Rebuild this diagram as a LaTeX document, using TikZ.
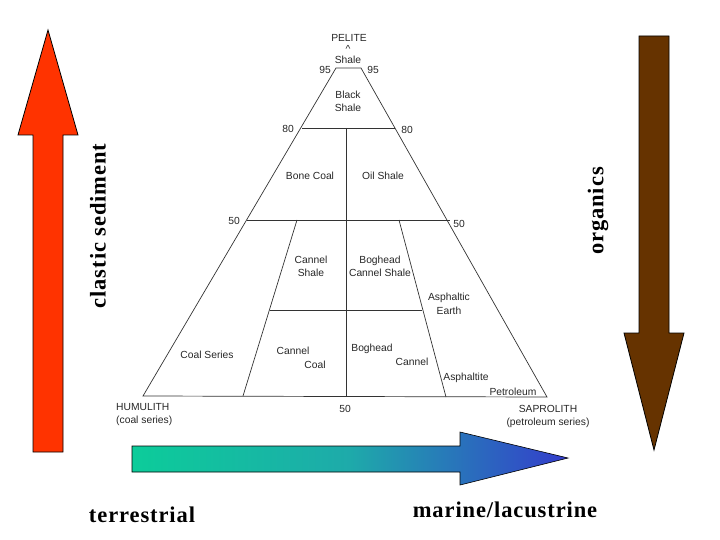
\documentclass[tikz,border=0pt]{standalone}
\usepackage{fontspec}
\setmainfont{Liberation Sans}
\newfontfamily\bigserif[LetterSpace=4]{Liberation Serif}
\begin{document}
\begin{tikzpicture}[x=1pt,y=-1pt,
  lbl/.style={inner sep=0pt, font=\fontsize{10.3}{12}\selectfont, text=black!85},
  big/.style={inner sep=0pt, font=\bigserif\bfseries\fontsize{22.5}{26}\selectfont},
  tri/.style={draw=black!80, line width=0.7pt},
  arr/.style={draw=black, line width=0.8pt, line join=miter}]
\useasboundingbox (0,0) rectangle (720,540);
\definecolor{redarrow}{RGB}{255,51,0}
\definecolor{brownarrow}{RGB}{102,51,0}
\definecolor{gleft}{RGB}{12,204,154}
\definecolor{gmid}{RGB}{30,170,170}
\definecolor{gright}{RGB}{52,60,204}

% coordinates of the diagram
\coordinate (L0) at (143,396);
\coordinate (R0) at (547,397);
\coordinate (T95L) at (336,68);
\coordinate (T95R) at (361,68);
\coordinate (L80) at (302,128);
\coordinate (R80) at (395,128);
\coordinate (L50) at (247,220);
\coordinate (R50) at (450,220);
\coordinate (C80) at (346,128);
\coordinate (C0) at (346,396);
\coordinate (IL50) at (297,220);
\coordinate (IL0) at (243,396);
\coordinate (IR50) at (399,220);
\coordinate (IR0) at (446,397);
\coordinate (ML) at (270,310);
\coordinate (MR) at (422,310);

% triangle
\draw[tri] (L0) -- (T95L) -- (T95R) -- (R0) -- cycle;
\draw[tri] (L80) -- (R80);
\draw[tri] (L50) -- (R50);
\draw[tri] (C80) -- (C0);
\draw[tri] (IL50) -- (IL0);
\draw[tri] (IR50) -- (IR0);
\draw[tri] (ML) -- (MR);

% labels
\node[lbl] (pelite) at (349,38) {PELITE};
\node[lbl] (caret) at (348,49) {\textasciicircum};
\node[lbl] (shale) at (348,60) {Shale};
\node[lbl] (n95l) at (325,70) {95};
\node[lbl] (n95r) at (373,70) {95};
\node[lbl] (black) at (348,95) {Black};
\node[lbl] (bshale) at (348,108) {Shale};
\node[lbl] (n80l) at (288,129) {80};
\node[lbl] (n80r) at (407,130) {80};
\node[lbl] (bone) at (310,176) {Bone Coal};
\node[lbl] (oil) at (383,176) {Oil Shale};
\node[lbl] (n50l) at (234,221) {50};
\node[lbl] (n50r) at (459,224) {50};
\node[lbl] (cs1) at (311,260) {Cannel};
\node[lbl] (cs2) at (311,273) {Shale};
\node[lbl] (bcs1) at (380,261) {Boghead};
\node[lbl] (bcs2) at (380,273) {Cannel Shale};
\node[lbl] (ae1) at (449,298) {Asphaltic};
\node[lbl] (ae2) at (449,311) {Earth};
\node[lbl] (coalser) at (207,355) {Coal Series};
\node[lbl] (cc1) at (293,351) {Cannel};
\node[lbl] (cc2) at (315,365) {Coal};
\node[lbl] (bc1) at (372,349) {Boghead};
\node[lbl] (bc2) at (412,362) {Cannel};
\node[lbl] (asph) at (466,378) {Asphaltite};
\node[lbl] (petr) at (513,392) {Petroleum};
\node[lbl] (n50b) at (345,409) {50};
\node[lbl, anchor=west] (humu) at (116,407) {HUMULITH};
\node[lbl, anchor=west] (coalseries) at (116,421) {(coal series)};
\node[lbl] (sapro) at (548,409) {SAPROLITH};
\node[lbl] (petser) at (548,423) {(petroleum series)};

% arrows
\filldraw[arr, fill=redarrow] (33,452) -- (33,135) -- (18,135) -- (48,30) -- (78,135) -- (63,135) -- (63,452) -- cycle;
\filldraw[arr, fill=brownarrow] (639,36) -- (669,36) -- (669,333) -- (684,333) -- (654,450) -- (624,333) -- (639,333) -- cycle;
\shade[left color=gleft, right color=gright, middle color=gmid] (132,446) -- (460,446) -- (460,432) -- (568,458) -- (460,485) -- (460,472) -- (132,472) -- cycle;
\draw[arr, line width=0.6pt] (132,446) -- (460,446) -- (460,432) -- (568,458) -- (460,485) -- (460,472) -- (132,472) -- cycle;

% big labels
\node[big, rotate=90] (clastic) at (98,226) {clastic sediment};
\node[big, rotate=90] (organics) at (598,211) {organics};
\node[big] (terr) at (142,515) {terrestrial};
\node[big] (marine) at (505,510) {marine/lacustrine};
\end{tikzpicture}
\end{document}
